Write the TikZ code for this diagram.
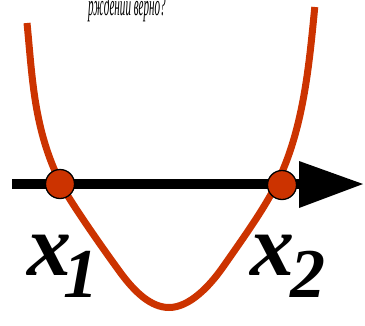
\documentclass[tikz,border=0pt]{standalone}
\usepackage{fontspec}
\setmainfont{Liberation Serif}
\definecolor{rootred}{RGB}{204,51,0}
\begin{document}
\begin{tikzpicture}[x=1pt,y=-1pt,
  curve/.style={draw=rootred,line width=7pt},
  root/.style={circle,fill=rootred,draw=black,line width=1.3pt,minimum size=29pt,inner sep=0pt},
  lbl/.style={inner sep=0pt,anchor=base west,font=\fontsize{88}{88}\selectfont\bfseries\itshape}]
\useasboundingbox (0,0) rectangle (365,325);
\node[inner sep=0pt,anchor=base west] (t) at (88,15) {\scalebox{0.37}[1]{\fontsize{30}{30}\selectfont\itshape рждений верно?}};
\coordinate (a0) at (12,184);
\coordinate (a1) at (302,184);
\draw[line width=10pt] (a0) -- (a1);
\fill (299,161) -- (363,184) -- (299,208) -- cycle;
\draw[curve] (27,23) .. controls (32.5,78) and (33.5,129) .. (61,184)
  .. controls (68.5,199) and (98.1,242) .. (120,272)
  .. controls (134.6,292) and (151,307.5) .. (169,307.5)
  .. controls (189,307.5) and (209,287) .. (223,267)
  .. controls (244,237) and (264,209) .. (276.5,184)
  .. controls (304,129) and (309.3,62) .. (314.8,7);
\node[root] (r1) at (60,184) {};
\node[root] (r2) at (282,185) {};
\node[lbl] (x1) at (27,275) {x\kern-8pt\raisebox{-22pt}{\fontsize{70}{70}\selectfont 1}};
\node[lbl] (x2) at (250,275) {x\kern-4pt\raisebox{-22pt}{\fontsize{70}{70}\selectfont 2}};
\end{tikzpicture}
\end{document}
